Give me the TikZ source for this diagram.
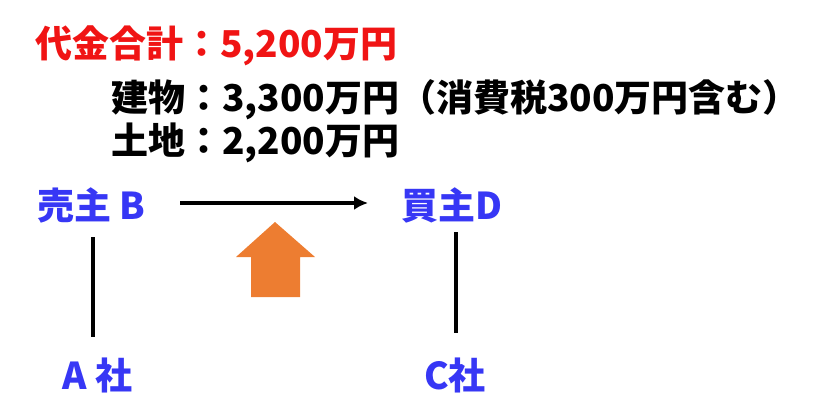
\documentclass[tikz,border=0pt]{standalone}
\usepackage{fontspec}
\usetikzlibrary{arrows.meta}
\newfontfamily\jp{Noto Sans CJK JP}
\definecolor{jred}{RGB}{240,20,20}
\definecolor{jblue}{RGB}{55,55,245}
\definecolor{jorange}{RGB}{237,125,49}
\begin{document}
\begin{tikzpicture}[x=1pt,y=-1pt,
  txt/.style={anchor=west,inner sep=0pt,font=\jp\bfseries\fontsize{37}{44}\selectfont},
  party/.style={txt,text=jblue},
  link/.style={line width=4pt}]
\useasboundingbox (0,0) rectangle (813,410);
\node[txt,text=jred] (total) at (35,46) {代金合計：5,200万円};
\node[txt] (bldg) at (111,100) {建物：3,300万円（消費税300万円含む）};
\node[txt] (land) at (111,143) {土地：2,200万円};
\node[party] (B) at (37,205) {売主 B};
\node[party] (D) at (401,205) {買主D};
\node[party] (A) at (62,375) {A 社};
\node[party] (C) at (424,375) {C社};
\coordinate (arrS) at (180,203);
\coordinate (arrE) at (368,203);
\draw[line width=3.5pt,-{Latex[length=14pt,width=14pt]}] (arrS) -- (arrE);
\coordinate (l1) at (93,237); \coordinate (l2) at (93,337);
\coordinate (r1) at (456,232); \coordinate (r2) at (456,333);
\draw[link] (l1) -- (l2);
\draw[link] (r1) -- (r2);
\fill[jorange] (275,222) -- (315,257) -- (300,257) -- (300,297) -- (251,297) -- (251,257) -- (236,257) -- cycle;
\end{tikzpicture}
\end{document}
